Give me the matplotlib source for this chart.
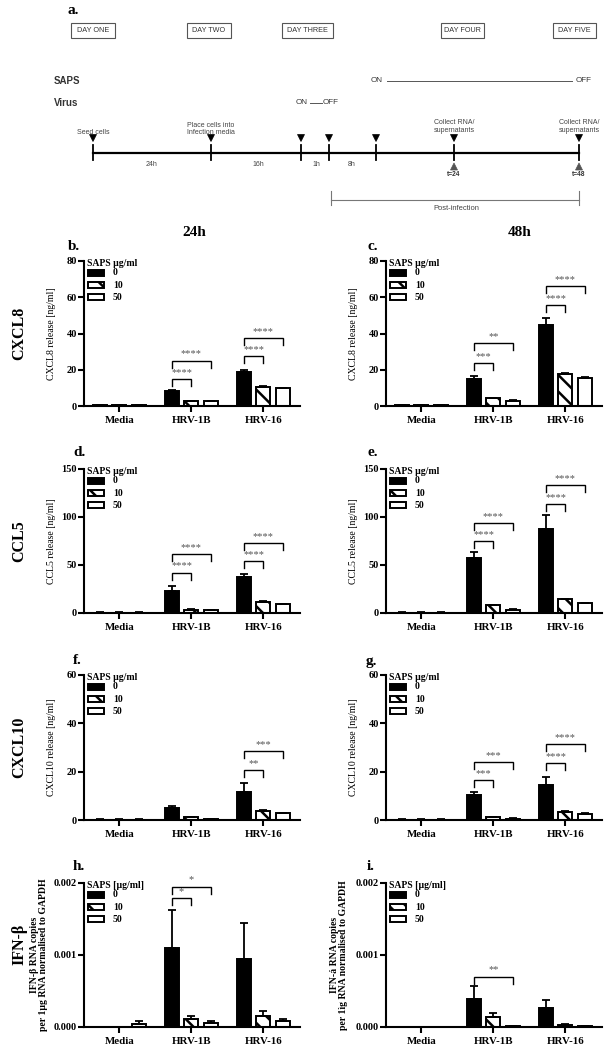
import matplotlib
matplotlib.use('Agg')
import matplotlib.pyplot as plt
from matplotlib.patches import Rectangle, Polygon
from matplotlib.lines import Line2D
from matplotlib.transforms import Affine2D
import numpy as np

# ---------------- data ----------------
categories = ['Media', 'HRV-1B', 'HRV-16']
doses = ['0', '10', '50']

# rows: SAPS 0, 10, 50 ; cols: Media, HRV-1B, HRV-16
cxcl8_24_mean = [[0.3, 8.2, 18.8], [0.3, 2.6, 10.5], [0.3, 2.6, 10.0]]
cxcl8_24_err = [[0.1, 0.4, 1.0], [0.05, 0.2, 0.3], [0.05, 0.2, 0.2]]
cxcl8_24_sig = [(1, 0, 1, 15.0, '****'), (1, 0, 2, 25.0, '****'),
                (2, 0, 1, 27.5, '****'), (2, 0, 2, 37.5, '****')]

cxcl8_48_mean = [[0.3, 15.0, 44.5], [0.3, 4.3, 17.6], [0.3, 3.0, 15.5]]
cxcl8_48_err = [[0.1, 1.8, 4.0], [0.05, 0.3, 0.4], [0.05, 0.2, 0.4]]
cxcl8_48_sig = [(1, 0, 1, 23.7, '***'), (1, 0, 2, 34.8, '**'),
                (2, 0, 1, 55.8, '****'), (2, 0, 2, 66.3, '****')]

ccl5_24_mean = [[0.5, 23.0, 37.0], [0.5, 3.5, 11.5], [0.5, 2.8, 9.0]]
ccl5_24_err = [[0.1, 5.0, 3.7], [0.1, 0.5, 0.8], [0.1, 0.3, 0.5]]
ccl5_24_sig = [(1, 0, 1, 42.0, '****'), (1, 0, 2, 61.5, '****'),
               (2, 0, 1, 54.0, '****'), (2, 0, 2, 73.0, '****')]

ccl5_48_mean = [[0.5, 57.0, 88.0], [0.5, 8.0, 14.5], [0.5, 3.5, 10.0]]
ccl5_48_err = [[0.1, 6.5, 14.0], [0.1, 0.5, 0.5], [0.1, 0.3, 0.4]]
ccl5_48_sig = [(1, 0, 1, 75.0, '****'), (1, 0, 2, 94.0, '****'),
               (2, 0, 1, 113.7, '****'), (2, 0, 2, 133.0, '****')]

cxcl10_24_mean = [[0.2, 5.0, 11.7], [0.2, 1.2, 3.8], [0.2, 0.5, 2.7]]
cxcl10_24_err = [[0.05, 0.9, 3.5], [0.05, 0.2, 0.3], [0.05, 0.1, 0.2]]
cxcl10_24_sig = [(2, 0, 1, 20.7, '**'), (2, 0, 2, 28.4, '***')]

cxcl10_48_mean = [[0.2, 10.5, 14.5], [0.2, 1.2, 3.5], [0.2, 0.6, 2.5]]
cxcl10_48_err = [[0.05, 1.0, 3.4], [0.05, 0.2, 0.3], [0.05, 0.1, 0.2]]
cxcl10_48_sig = [(1, 0, 1, 16.5, '***'), (1, 0, 2, 24.0, '***'),
                 (2, 0, 1, 23.7, '****'), (2, 0, 2, 31.3, '****')]

ifnb_24_mean = [[0.000003, 0.00110, 0.00094], [0.000003, 0.000107, 0.000148], [0.00004, 0.00005, 0.000083]]
ifnb_24_err = [[0.0, 0.00053, 0.00050], [0.0, 0.00005, 0.000078], [0.00004, 0.00003, 0.000032]]
ifnb_24_sig = [(1, 0, 1, 0.00179, '*'), (1, 0, 2, 0.00195, '*')]

ifna_48_mean = [[0.000003, 0.000385, 0.00027], [0.000003, 0.000135, 0.00003], [0.000003, 0.00001, 0.00001]]
ifna_48_err = [[0.0, 0.000185, 0.000105], [0.0, 0.000055, 0.00001], [0.0, 0.0, 0.0]]
ifna_48_sig = [(1, 0, 2, 0.0007, '**')]

ticks_cxcl8 = [0, 20, 40, 60, 80]
ticks_ccl5 = [0, 50, 100, 150]
ticks_cxcl10 = [0, 20, 40, 60]
ticks_ifn = [0.0, 0.001, 0.002]
ticklabels_ifn = ['0.000', '0.001', '0.002']

# ---------------- setup ----------------
W, H = 616, 1049
SERIF = ['Liberation Serif', 'DejaVu Serif']
SANS = ['Liberation Sans Narrow', 'Liberation Sans', 'DejaVu Sans']
plt.rcParams['font.family'] = SERIF
plt.rcParams['hatch.linewidth'] = 1.8
plt.rcParams['hatch.color'] = 'black'

fig = plt.figure(figsize=(W / 100, H / 100), dpi=100)
fig.patch.set_facecolor('white')
pxT = Affine2D().scale(1.0 / W, -1.0 / H).translate(0, 1) + fig.transFigure


def ftext(x, y, s, **kw):
    return fig.text(x / W, 1 - y / H, s, **kw)


def fline(xs, ys, **kw):
    fig.add_artist(Line2D(xs, ys, transform=pxT, **kw))


def tri(x, y, s, down=True, color='black'):
    if down:
        pts = [(x - s / 2, y - s / 2), (x + s / 2, y - s / 2), (x, y + s / 2)]
    else:
        pts = [(x - s / 2, y + s / 2), (x + s / 2, y + s / 2), (x, y - s / 2)]
    fig.add_artist(Polygon(pts, closed=True, transform=pxT, facecolor=color, edgecolor=color, lw=0.5))


# ---------------- panel a (diagram) ----------------
ftext(67, 11, 'a.', fontsize=11, fontweight='bold', va='center', ha='left')
day_labels = ['DAY ONE', 'DAY TWO', 'DAY THREE', 'DAY FOUR', 'DAY FIVE']
day_boxes = [(71, 115), (187, 231), (282, 333), (441, 484), (553, 596)]
for lab, (x0, x1) in zip(day_labels, day_boxes):
    fig.add_artist(Rectangle((x0, 23), x1 - x0, 15, transform=pxT, fill=False,
                             edgecolor='#555555', lw=0.8))
    ftext((x0 + x1) / 2, 30.5, lab, fontsize=5.2, color='#333333', ha='center', va='center', family=SANS)

ftext(54, 81, 'SAPS', fontsize=7, fontweight='bold', color='#333333', va='center', family=SANS)
ftext(371, 81, 'ON', fontsize=5.8, color='#333333', va='center', family=SANS)
fline([387, 572], [81, 81], color='#555555', lw=0.7)
ftext(576, 81, 'OFF', fontsize=5.8, color='#333333', va='center', family=SANS)

ftext(54, 103, 'Virus', fontsize=7, fontweight='bold', color='#333333', va='center', family=SANS)
ftext(296, 103, 'ON', fontsize=5.8, color='#333333', va='center', family=SANS)
fline([310, 322], [103, 103], color='#555555', lw=0.7)
ftext(323, 103, 'OFF', fontsize=5.8, color='#333333', va='center', family=SANS)

tl_x = [93, 211, 301, 329, 376, 454, 579]
fline([93, 579], [153, 153], color='black', lw=1.6)
for x in tl_x:
    fline([x, x], [145, 160], color='black', lw=1.3)
    tri(x, 138, 7)
ftext(93, 132, 'Seed cells', fontsize=5, color='#444444', ha='center', va='center', family=SANS)
ftext(211, 129, 'Place cells into\nInfection media', fontsize=5, color='#444444', ha='center',
      va='center', linespacing=1.0, family=SANS)
for x in (454, 579):
    ftext(x, 126.5, 'Collect RNA/\nsupernatants', fontsize=5, color='#444444', ha='center',
          va='center', linespacing=1.0, family=SANS)
for x, lab in zip([152, 258, 316, 352], ['24h', '16h', '1h', '8h']):
    ftext(x, 164, lab, fontsize=5, color='#444444', ha='center', va='center', family=SANS)
for x, lab in zip([454, 579], ['t=24', 't=48']):
    tri(x, 166.5, 7, down=False, color='#555555')
    ftext(x, 175, lab, fontsize=4.8, color='#333333', fontweight='bold', ha='center', va='center', family=SANS)

fline([331, 579], [199.5, 199.5], color='#777777', lw=0.8)
fline([331, 331], [191, 205], color='#777777', lw=0.8)
fline([579, 579], [191, 205], color='#777777', lw=0.8)
ftext(456, 208, 'Post-infection', fontsize=5.4, color='#444444', ha='center', va='center', family=SANS)

# ---------------- bar panels ----------------
ftext(194, 232, '24h', fontsize=11, fontweight='bold', ha='center', va='center')
ftext(520, 232, '48h', fontsize=11, fontweight='bold', ha='center', va='center')

row_labels = [('CXCL8', 333), ('CCL5', 541), ('CXCL10', 747), ('IFN-β', 944)]
for lab, y in row_labels:
    ftext(19, y, lab, fontsize=11.5, fontweight='bold', rotation=90, ha='center', va='center')

offsets = [-0.27, 0.0, 0.27]
bw = 0.2
styles = [dict(facecolor='black', hatch=None), dict(facecolor='white', hatch='\\\\'),
          dict(facecolor='white', hatch=None)]


def panel(left, right, top, bottom, letter, letter_xy, means, errs, sigs, ticks, ticklabels,
          ylabel, ylabel_x, ylabel_bold, legend_title):
    ax = fig.add_axes([left / W, 1 - bottom / H, (right - left) / W, (bottom - top) / H])
    ymax = ticks[-1]
    ax.set_xlim(-0.49, 2.51)
    ax.set_ylim(0, ymax)
    x = np.arange(len(categories))
    for k in range(3):
        m = np.array(means[k])
        e = np.array(errs[k])
        st = styles[k]
        ax.bar(x + offsets[k], m, bw, facecolor=st['facecolor'], edgecolor='black', lw=1.4,
               hatch=st['hatch'], zorder=2)
        ax.errorbar(x + offsets[k], m, yerr=[np.zeros_like(e), e], fmt='none', ecolor='black',
                    elinewidth=1.3, capsize=3, capthick=1.3, zorder=3)
    ph = bottom - top
    leg = 7.0 / ph * ymax
    for (g, i, j, y, s) in sigs:
        x0 = g + offsets[i]
        x1 = g + offsets[j]
        ax.plot([x0, x0, x1, x1], [y - leg, y, y, y - leg], color='black', lw=1.0,
                solid_joinstyle='miter', zorder=3, clip_on=False)
        ax.annotate(s, ((x0 + x1) / 2, y), xytext=(0, 1.5), textcoords='offset points',
                    ha='center', va='bottom', fontsize=7.5, color='#555555')
    for sp in ['top', 'right']:
        ax.spines[sp].set_visible(False)
    for sp in ['left', 'bottom']:
        ax.spines[sp].set_linewidth(1.5)
    ax.set_yticks(ticks)
    ax.set_yticklabels(ticklabels if ticklabels else [str(t) for t in ticks],
                       fontsize=7.5, fontweight='bold')
    ax.set_xticks(x)
    ax.set_xticklabels(categories, fontsize=7.8, fontweight='bold')
    ax.tick_params(axis='y', direction='out', length=4, width=1.5, pad=1)
    ax.tick_params(axis='x', direction='out', length=4, width=1.5, pad=3)
    ax.set_facecolor('none')
    # legend
    ftext(left + 3, top + 2, legend_title, fontsize=7, fontweight='bold', ha='left', va='center')
    for k, lab in enumerate(doses):
        yc = top + 11.7 + 12.3 * k
        st = styles[k]
        fig.add_artist(Rectangle((left + 3.5, yc - 3), 16.5, 6, transform=pxT, facecolor=st['facecolor'],
                                 edgecolor='black', lw=1.4, hatch=st['hatch']))
        ftext(left + 29, yc, lab, fontsize=7, fontweight='bold', ha='left', va='center')
    ftext(letter_xy[0], letter_xy[1], letter, fontsize=11, fontweight='bold', ha='left', va='center')
    ftext(ylabel_x, (top + bottom) / 2, ylabel, fontsize=7, rotation=90, ha='center', va='center',
          fontweight='bold' if ylabel_bold else 'normal', linespacing=1.0)
    return ax


L1, R1 = 84, 300
L2, R2 = 386, 602

panel(L1, R1, 261, 406, 'b.', (68, 246), cxcl8_24_mean, cxcl8_24_err, cxcl8_24_sig, ticks_cxcl8, None,
      'CXCL8 release [ng/ml]', 52, False, 'SAPS μg/ml')
panel(L2, R2, 261, 406, 'c.', (368, 247), cxcl8_48_mean, cxcl8_48_err, cxcl8_48_sig, ticks_cxcl8, None,
      'CXCL8 release [ng/ml]', 353, False, 'SAPS μg/ml')
panel(L1, R1, 469, 613, 'd.', (73, 452), ccl5_24_mean, ccl5_24_err, ccl5_24_sig, ticks_ccl5, None,
      'CCL5 release [ng/ml]', 52, False, 'SAPS μg/ml')
panel(L2, R2, 469, 613, 'e.', (367, 452), ccl5_48_mean, ccl5_48_err, ccl5_48_sig, ticks_ccl5, None,
      'CCL5 release [ng/ml]', 353, False, 'SAPS μg/ml')
panel(L1, R1, 675, 820, 'f.', (73, 660), cxcl10_24_mean, cxcl10_24_err, cxcl10_24_sig, ticks_cxcl10, None,
      'CXCL10 release [ng/ml]', 52, False, 'SAPS μg/ml')
panel(L2, R2, 675, 820, 'g.', (366, 662), cxcl10_48_mean, cxcl10_48_err, cxcl10_48_sig, ticks_cxcl10, None,
      'CXCL10 release [ng/ml]', 353, False, 'SAPS μg/ml')
panel(L1, R1, 883, 1027, 'h.', (73, 867), ifnb_24_mean, ifnb_24_err, ifnb_24_sig, ticks_ifn, ticklabels_ifn,
      'IFN-β RNA copies\nper 1μg RNA normalised to GAPDH', 39, True, 'SAPS [μg/ml]')
panel(L2, R2, 883, 1027, 'i.', (367, 867), ifna_48_mean, ifna_48_err, ifna_48_sig, ticks_ifn, ticklabels_ifn,
      'IFN-á RNA copies\nper 1ìg RNA normalised to GAPDH', 339, True, 'SAPS [μg/ml]')

fig.savefig('out.png', dpi=100, facecolor='white')
